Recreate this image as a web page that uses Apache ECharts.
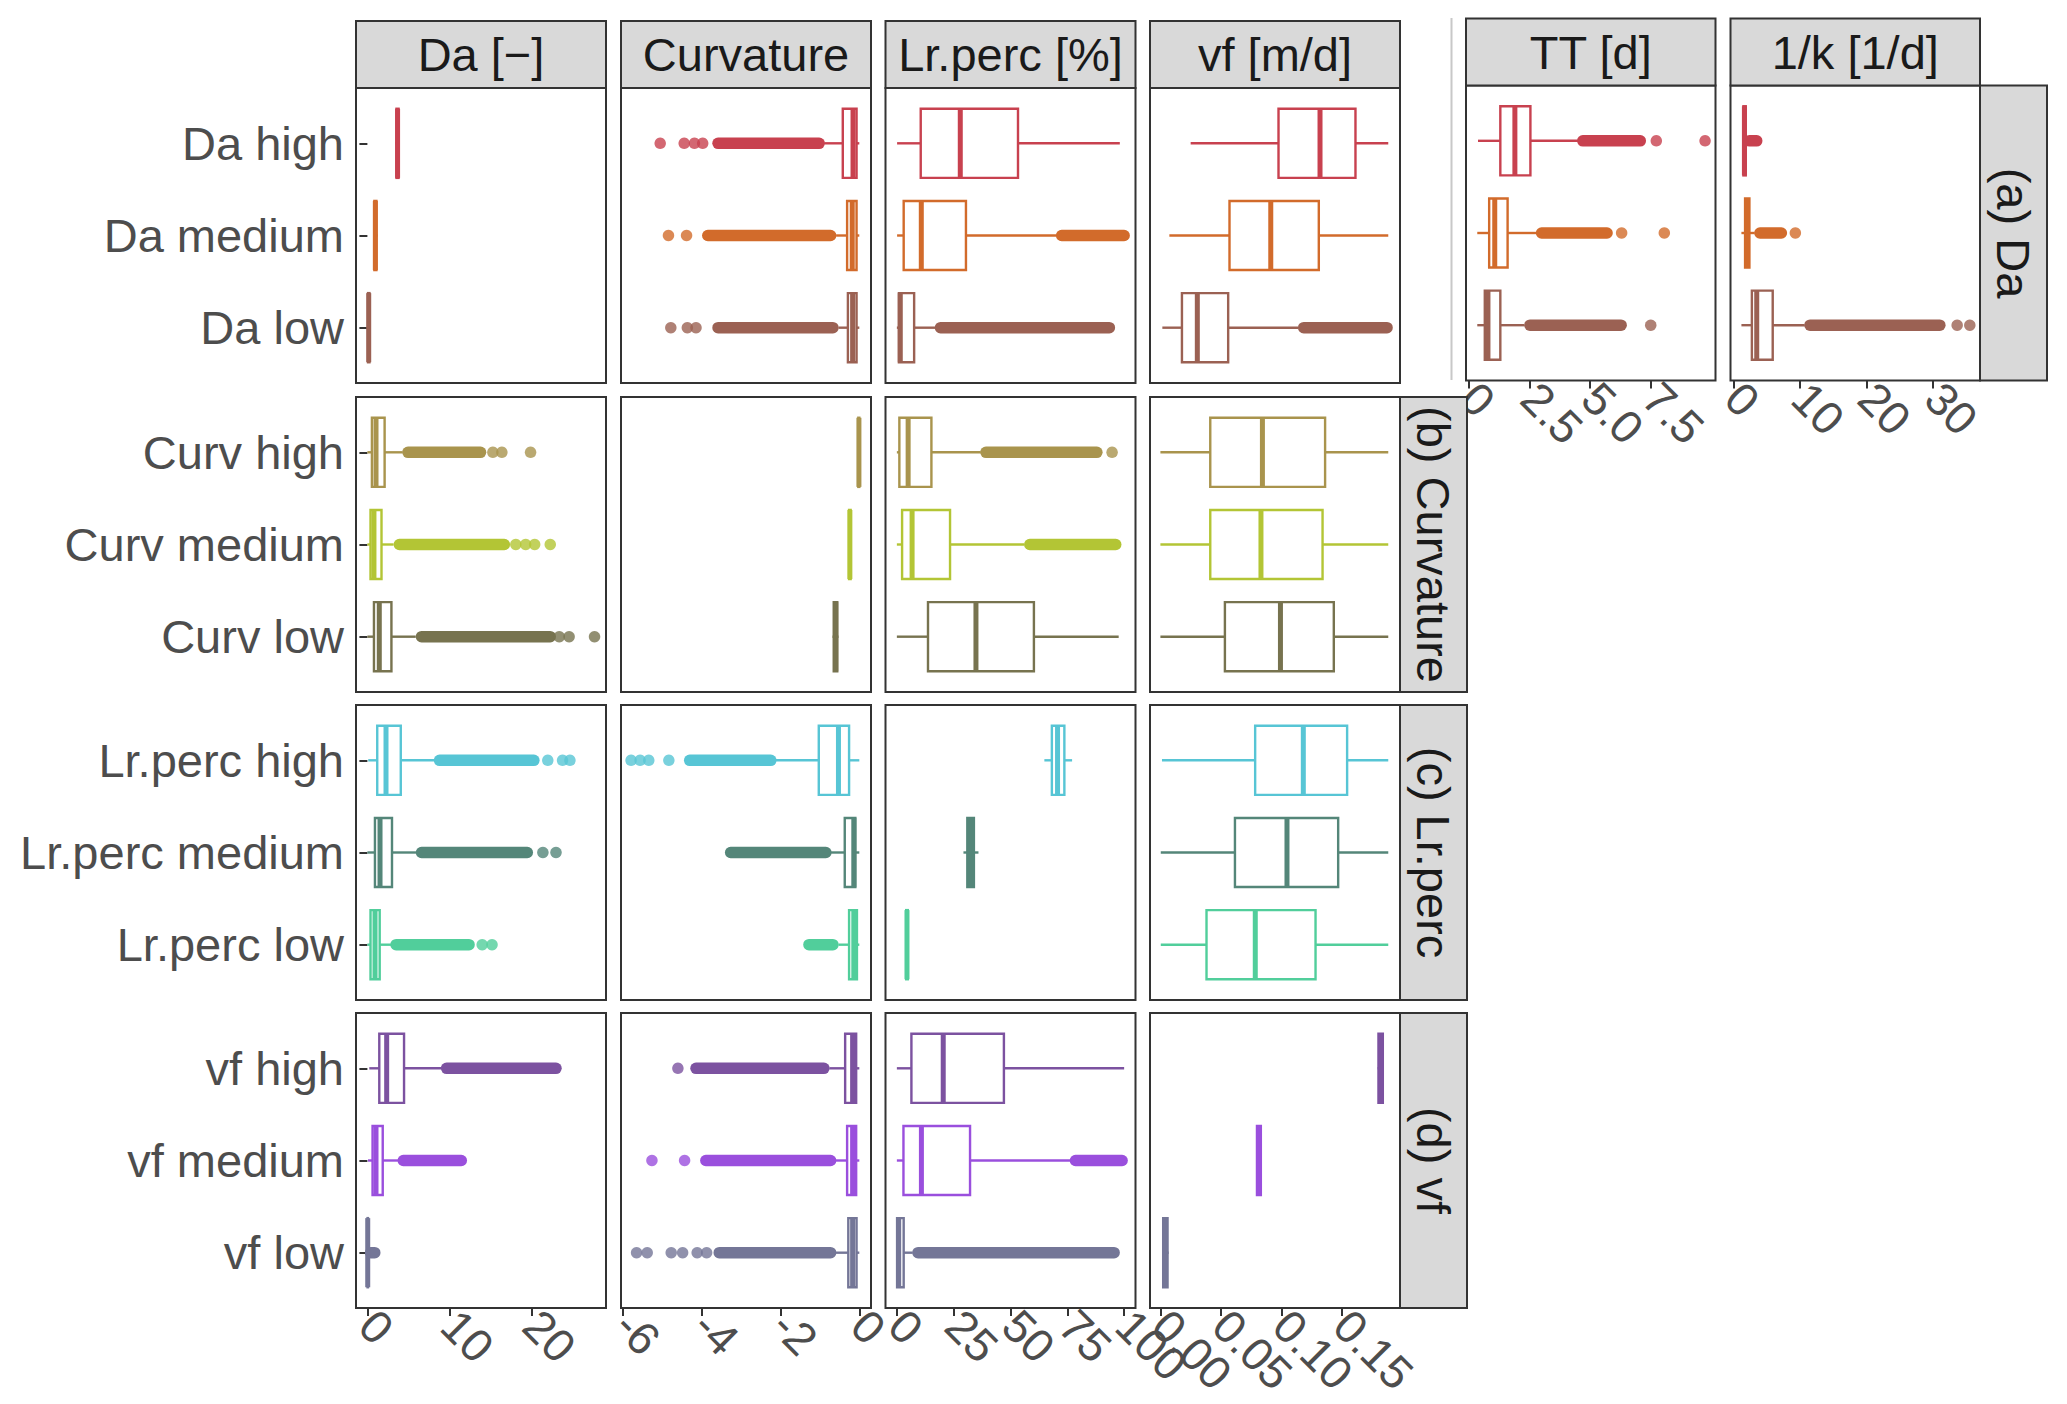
<!DOCTYPE html>
<html>
<head>
<meta charset="utf-8">
<script src="https://cdn.jsdelivr.net/npm/echarts@6.0.0/dist/echarts.min.js"></script>
<style>
html,body{margin:0;padding:0;background:#fff;}
#chart{width:2067px;height:1404px;}
</style>
</head>
<body>
<div id="chart"></div>
<script>
// ---------------- DATA ----------------
const groups = ['Da high','Da medium','Da low','Curv high','Curv medium','Curv low',
  'Lr.perc high','Lr.perc medium','Lr.perc low','vf high','vf medium','vf low'];
const groupColors = ['#C8414F','#D26B2B','#9B6153','#A9944D','#B3C535','#77734F',
  '#57C5D5','#548679','#51CE9B','#7C52A0','#9A4FDD','#747697'];
const rowStrips = ['(a) Da','(b) Curvature','(c) Lr.perc','(d) vf'];
const colStrips = ['Da [\u2212]','Curvature','Lr.perc [%]','vf [m/d]'];
const extraStrips = ['TT [d]','1/k [1/d]'];

// axis limits and ticks
const daRange = [-1.39, 29.1];
const daTicks = [0, 10, 20];
const daTickLabels = ['0','10','20'];
const curvRange = [-6.056, 0.297];
const curvTicks = [-6, -4, -2, 0];
const curvTickLabels = ['-6','-4','-2','0'];
const lrRange = [-5, 105];
const lrTicks = [0, 25, 50, 75, 100];
const lrTickLabels = ['0','25','50','75','100'];
const vfRange = [-0.0086, 0.198];
const vfTicks = [0, 0.05, 0.10, 0.15];
const vfTickLabels = ['0.00','0.05','0.10','0.15'];
const ttRange = [-0.115, 10.17];
const ttTicks = [0, 2.5, 5, 7.5];
const ttTickLabels = ['0','2.5','5.0','7.5'];
const kRange = [-0.44, 37.03];
const kTicks = [0, 10, 20, 30];
const kTickLabels = ['0','10','20','30'];

// box stats [whisker min, Q1, median, Q3, whisker max], one per group (order of `groups`)
const daBox = [
  [3.4, 3.55, 3.68, 3.8, 3.95],
  [0.7, 0.85, 0.97, 1.1, 1.25],
  [0.02, 0.08, 0.16, 0.25, 0.35],
  [0.0, 0.55, 1.05, 2.1, 4.3],
  [0.0, 0.38, 0.8, 1.72, 3.2],
  [0.0, 0.8, 1.45, 2.93, 5.9],
  [0.1, 1.2, 2.27, 4.07, 8.16],
  [0.0, 0.92, 1.54, 3.0, 5.93],
  [0.0, 0.38, 0.93, 1.5, 2.88],
  [0.23, 1.45, 2.35, 4.47, 9.0],
  [0.07, 0.63, 1.05, 1.87, 3.73],
  [0.0, 0.02, 0.04, 0.07, 0.12]
];
// dense outlier stretches [from, to] and isolated outliers
const daRuns = [[],[],[],[[4.95,13.8]],[[3.9,16.7]],[[6.6,22.3]],[[8.8,20.3]],[[6.6,19.5]],[[3.5,12.4]],[[9.66,23.0]],[[4.38,11.45]],[[0.4,0.9]]];
const daPoints = [[],[],[],[15.3,16.4,19.9],[18.1,19.3,20.4,22.3],[23.4,24.6,27.7],[22.0,23.8,24.7],[21.4,23.0],[14.0,15.2],[],[],[]];

const curvBox = [
  [-0.89, -0.42, -0.16, -0.07, 0.0],
  [-0.59, -0.31, -0.18, -0.07, 0.0],
  [-0.53, -0.29, -0.17, -0.07, 0.0],
  [-0.04, -0.025, -0.01, 0.0, 0.01],
  [-0.28, -0.26, -0.24, -0.22, -0.2],
  [-0.68, -0.65, -0.6, -0.56, -0.53],
  [-2.12, -1.03, -0.53, -0.26, 0.0],
  [-0.72, -0.37, -0.14, -0.1, 0.0],
  [-0.53, -0.26, -0.14, -0.06, 0.0],
  [-0.76, -0.36, -0.17, -0.08, 0.0],
  [-0.6, -0.31, -0.17, -0.08, 0.0],
  [-0.6, -0.28, -0.17, -0.07, 0.0]
];
const curvRuns = [[[-3.59,-1.02]],[[-3.85,-0.73]],[[-3.59,-0.67]],[],[],[],[[-4.31,-2.25]],[[-3.27,-0.85]],[[-1.28,-0.67]],[[-4.15,-0.9]],[[-3.9,-0.73]],[[-3.56,-0.73]]];
const curvPoints = [[-5.06,-4.45,-4.19,-3.98],[-4.85,-4.39],[-4.79,-4.37,-4.15],[],[],[],[-5.8,-5.57,-5.35,-4.84],[],[],[-4.61],[-5.27,-4.44],[-5.66,-5.39,-4.78,-4.49,-4.12,-3.88]];

const lrBox = [
  [0.1, 10.5, 27.9, 53.3, 98.1],
  [0.1, 3.0, 10.75, 30.4, 70.3],
  [0.0, 0.9, 1.5, 7.6, 16.9],
  [0.0, 1.1, 4.96, 15.2, 36.9],
  [0.0, 2.3, 6.7, 23.4, 56.1],
  [0.0, 13.7, 34.8, 60.3, 97.6],
  [64.9, 68.2, 70.7, 73.7, 77.1],
  [29.3, 31.0, 32.4, 33.9, 35.9],
  [3.8, 4.1, 4.45, 4.8, 5.1],
  [0.0, 6.4, 20.4, 47.1, 100.0],
  [0.0, 2.9, 10.8, 32.2, 76.3],
  [0.0, 0.1, 0.8, 3.0, 7.0]
];
const lrRuns = [[],[[72.5,100]],[[19.2,93.5]],[[39.2,88.0]],[[58.5,96.3]],[],[],[],[],[],[[78.6,99.1]],[[9.3,95.6]]];
const lrPoints = [[],[],[],[94.7],[],[],[],[],[],[],[],[]];

const vfBox = [
  [0.0250, 0.0976, 0.1319, 0.1612, 0.1883],
  [0.0074, 0.0571, 0.0912, 0.1309, 0.1883],
  [0.0016, 0.0178, 0.0305, 0.0560, 0.1140],
  [0.0, 0.0412, 0.0843, 0.1361, 0.1883],
  [0.0, 0.0412, 0.0831, 0.1340, 0.1883],
  [0.0, 0.0533, 0.0992, 0.1433, 0.1883],
  [0.0013, 0.0783, 0.1181, 0.1543, 0.1883],
  [0.0003, 0.0616, 0.1046, 0.1469, 0.1883],
  [0.0003, 0.0381, 0.0784, 0.1282, 0.1883],
  [0.1795, 0.1802, 0.1821, 0.1838, 0.1848],
  [0.0790, 0.0798, 0.0815, 0.0830, 0.0838],
  [0.0014, 0.0023, 0.0040, 0.0059, 0.0068]
];
const vfRuns = [[],[],[[0.1184,0.1873]],[],[],[],[],[],[],[],[],[]];
const vfPoints = [[],[],[],[],[],[],[],[],[],[],[],[]];

// TT and 1/k only for the Da groups
const ttBox = [[0.38,1.3,1.9,2.54,4.5],[0.35,0.84,1.07,1.6,2.8],[0.35,0.66,0.79,1.3,2.29]];
const ttRuns = [[[4.7,7.07]],[[3.0,5.7]],[[2.52,6.28]]];
const ttPoints = [[7.73,9.74],[6.3,8.06],[7.5]];
const kBox = [[1.3,1.5,1.65,1.85,2.2],[1.2,1.75,2.0,2.4,3.2],[1.2,2.77,3.5,5.9,10.7]];
const kRuns = [[[2.4,3.5]],[[3.98,7.2]],[[11.5,31.0]]];
const kPoints = [[],[9.3],[33.6,35.5]];

// ---------------- LAYOUT / STYLE ----------------
const FONT = '"Liberation Sans", Arial, Helvetica, sans-serif';
const colX = [356, 621, 885.5, 1150];
const rowY = [88, 397, 705, 1013];
const PW = 250, PH = 295;
const BOX_H = 0.75, LW = 2.4, MW = 5, DOT = 11.5;

function lookup(ticks, labels, v) {
  let best = 0;
  for (let i = 0; i < ticks.length; i++) if (Math.abs(ticks[i] - v) < Math.abs(ticks[best] - v)) best = i;
  return labels[best];
}

function renderBox(params, api) {
  const y = api.value(0);
  const c = api.visual('color');
  const pMin = api.coord([api.value(1), y]);
  const pQ1 = api.coord([api.value(2), y]);
  const pMed = api.coord([api.value(3), y]);
  const pQ3 = api.coord([api.value(4), y]);
  const pMax = api.coord([api.value(5), y]);
  const h = api.size([0, BOX_H])[1];
  const cy = pMed[1];
  return {
    type: 'group',
    children: [
      {type: 'line', shape: {x1: pMin[0], y1: cy, x2: pQ1[0], y2: cy}, style: {stroke: c, lineWidth: LW}},
      {type: 'line', shape: {x1: pQ3[0], y1: cy, x2: pMax[0], y2: cy}, style: {stroke: c, lineWidth: LW}},
      {type: 'rect', shape: {x: pQ1[0], y: cy - h / 2, width: pQ3[0] - pQ1[0], height: h}, style: {fill: '#ffffff', stroke: c, lineWidth: LW}},
      {type: 'line', shape: {x1: pMed[0], y1: cy - h / 2, x2: pMed[0], y2: cy + h / 2}, style: {stroke: c, lineWidth: MW}}
    ]
  };
}

function renderRun(params, api) {
  const y = api.value(2);
  const a = api.coord([api.value(0), y]);
  const b = api.coord([api.value(1), y]);
  return {type: 'line', shape: {x1: a[0], y1: a[1], x2: b[0], y2: b[1]},
    style: {stroke: api.visual('color'), lineWidth: DOT, lineCap: 'round'}};
}

const grids = [], xAxes = [], yAxes = [], series = [];

function xLabelStyle(o, values) {
  return {show: values.length > 0, customValues: values, rotate: -45, margin: 10,
    showMinLabel: true, showMaxLabel: true,
    fontSize: 46, fontFamily: FONT, color: '#4d4d4d',
    formatter: v => lookup(o.xticks, o.xlabels, v)};
}

function addPanel(o) {
  const i = grids.length;
  grids.push({left: o.left, top: o.top, width: o.width, height: o.height, show: true,
    borderColor: '#333333', borderWidth: 2, backgroundColor: '#ffffff', containLabel: false});
  const showX = !!o.xticks;
  const evenTicks = showX ? o.xticks.filter((t, k) => k % 2 === 0) : [];
  const oddTicks = showX ? o.xticks.filter((t, k) => k % 2 === 1) : [];
  const xi = xAxes.length;
  xAxes.push({
    type: 'value', gridIndex: i, position: 'bottom', min: o.range[0], max: o.range[1],
    axisLine: {show: false}, splitLine: {show: false},
    axisTick: {show: showX, customValues: o.xticks || [], length: 8, lineStyle: {color: '#333333', width: 2}},
    axisLabel: xLabelStyle(o, evenTicks)
  });
  if (oddTicks.length) {
    // second bottom axis on the same scale, carrying the alternate labels
    xAxes.push({
      type: 'value', gridIndex: i, position: 'bottom', offset: 0, min: o.range[0], max: o.range[1],
      axisLine: {show: false}, splitLine: {show: false}, axisTick: {show: false},
      axisLabel: xLabelStyle(o, oddTicks)
    });
  }
  const showY = !!o.ylabels;
  const yi = yAxes.length;
  yAxes.push({
    type: 'value', gridIndex: i, min: 0.4, max: 3.6,
    axisLine: {show: false}, splitLine: {show: false},
    axisTick: {show: showY, customValues: [1, 2, 3], length: 8, lineStyle: {color: '#333333', width: 2}},
    axisLabel: {show: showY, customValues: [1, 2, 3], margin: 12,
      showMinLabel: true, showMaxLabel: true,
      fontSize: 47, fontFamily: FONT, color: '#4d4d4d',
      formatter: v => (o.ylabels ? o.ylabels[Math.round(3 - v)] : '')}
  });
  const boxData = [], runData = [], ptData = [];
  o.gidx.forEach((g, k) => {
    const y = 3 - k;
    const color = groupColors[g];
    boxData.push({value: [y].concat(o.box[k]), itemStyle: {color: color}});
    o.runs[k].forEach(r => runData.push({value: [r[0], r[1], y], itemStyle: {color: color}}));
    o.pts[k].forEach(p => ptData.push({value: [p, y], itemStyle: {color: color}}));
  });
  series.push({type: 'custom', xAxisIndex: xi, yAxisIndex: yi, renderItem: renderRun, data: runData,
    encode: {x: [0, 1], y: 2}, z: 2, silent: true});
  series.push({type: 'scatter', xAxisIndex: xi, yAxisIndex: yi, symbol: 'circle', symbolSize: DOT,
    data: ptData, z: 2, silent: true});
  series.push({type: 'custom', xAxisIndex: xi, yAxisIndex: yi, renderItem: renderBox, data: boxData,
    encode: {x: [1, 2, 3, 4, 5], y: 0}, z: 3, silent: true});
}

const cols = [
  {box: daBox, runs: daRuns, pts: daPoints, range: daRange, ticks: daTicks, labels: daTickLabels},
  {box: curvBox, runs: curvRuns, pts: curvPoints, range: curvRange, ticks: curvTicks, labels: curvTickLabels},
  {box: lrBox, runs: lrRuns, pts: lrPoints, range: lrRange, ticks: lrTicks, labels: lrTickLabels},
  {box: vfBox, runs: vfRuns, pts: vfPoints, range: vfRange, ticks: vfTicks, labels: vfTickLabels}
];

for (let r = 0; r < 4; r++) {
  for (let c = 0; c < 4; c++) {
    const gidx = [3 * r, 3 * r + 1, 3 * r + 2];
    const col = cols[c];
    addPanel({
      left: colX[c], top: rowY[r], width: PW, height: PH, range: col.range,
      xticks: r === 3 ? col.ticks : null, xlabels: col.labels,
      ylabels: c === 0 ? gidx.map(g => groups[g]) : null,
      gidx: gidx,
      box: gidx.map(g => col.box[g]), runs: gidx.map(g => col.runs[g]), pts: gidx.map(g => col.pts[g])
    });
  }
}
// TT and 1/k panels (Da groups)
addPanel({left: 1466, top: 85.5, width: 249.5, height: PH, range: ttRange,
  xticks: ttTicks, xlabels: ttTickLabels, ylabels: null, gidx: [0, 1, 2],
  box: ttBox, runs: ttRuns, pts: ttPoints});
addPanel({left: 1730.5, top: 85.5, width: 249.5, height: PH, range: kRange,
  xticks: kTicks, xlabels: kTickLabels, ylabels: null, gidx: [0, 1, 2],
  box: kBox, runs: kRuns, pts: kPoints});

// ---------------- STRIPS ----------------
const graphics = [];
function strip(x, y, w, h, text, vertical) {
  graphics.push({type: 'rect', shape: {x: x, y: y, width: w, height: h},
    style: {fill: '#d9d9d9', stroke: '#333333', lineWidth: 2}, z: 10});
  graphics.push({type: 'text', x: x + w / 2, y: y + h / 2, rotation: vertical ? -Math.PI / 2 : 0, z: 11,
    style: {text: text, x: 0, y: 0, fill: '#1a1a1a', font: '47px ' + FONT,
      textAlign: 'center', textVerticalAlign: 'middle', align: 'center', verticalAlign: 'middle'}});
}
for (let c = 0; c < 4; c++) strip(colX[c], 21, PW, 67, colStrips[c], false);
strip(1466, 18.5, 249.5, 67, extraStrips[0], false);
strip(1730.5, 18.5, 249.5, 67, extraStrips[1], false);
strip(1980, 85.5, 67, PH, rowStrips[0], true);
for (let r = 1; r < 4; r++) strip(1400, rowY[r], 67, PH, rowStrips[r], true);
graphics.push({type: 'line', shape: {x1: 1451.5, y1: 18, x2: 1451.5, y2: 380},
  style: {stroke: '#c8c8c8', lineWidth: 2}, z: 1});

const chart = echarts.init(document.getElementById('chart'), null, {renderer: 'svg'});
chart.setOption({
  animation: false,
  backgroundColor: '#ffffff',
  grid: grids, xAxis: xAxes, yAxis: yAxes, series: series,
  graphic: graphics
});
</script>
</body>
</html>
